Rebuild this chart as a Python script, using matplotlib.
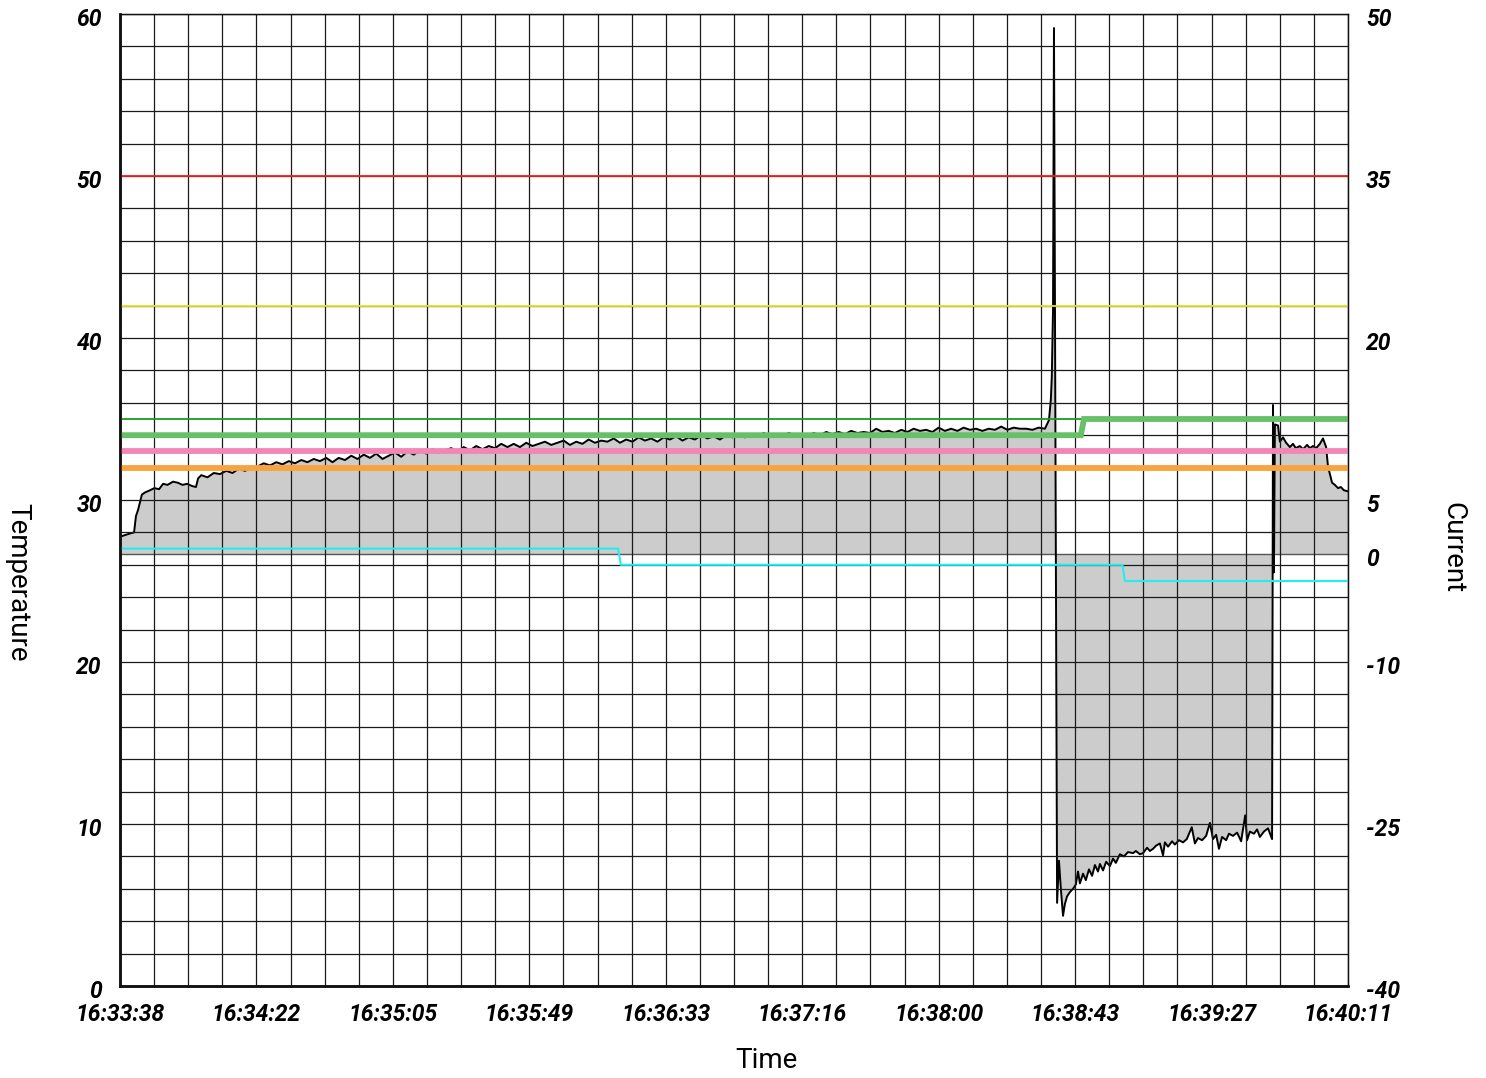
import numpy as np
import matplotlib
matplotlib.use("Agg")
import matplotlib.pyplot as plt
import matplotlib.transforms as mtransforms

# ---------------- data ----------------
x_tick_labels = ["16:33:38", "16:34:22", "16:35:05", "16:35:49", "16:36:33",
                 "16:37:16", "16:38:00", "16:38:43", "16:39:27", "16:40:11"]
duration_s = 393            # 16:33:38 -> 16:40:11
temp_ticks = [0, 10, 20, 30, 40, 50, 60]
current_ticks = [50, 35, 20, 5, 0, -10, -25, -40]

# current samples (seconds since 16:33:38, amperes)
start_t = [0, 3.2, 4.5, 5.1, 5.8, 7.0, 8.0, 9.6, 11, 12.5, 13.8, 15.2, 17, 18.5, 20, 21.5, 23, 24.3, 25.0]
start_v = [1.6, 1.9, 2.0, 3.5, 4.1, 5.5, 5.7, 5.9, 6.1, 6.0, 6.5, 6.4, 6.7, 6.6, 6.4, 6.5, 6.3, 6.2, 7.0]

main_t0, main_dt = 26, 2   # sampled every 2 s from t=26 s
main_v = [7.3, 7.1, 7.5, 7.4, 7.7, 7.5, 7.9, 7.7, 8.0, 8.1, 8.4, 8.2, 8.5, 8.3, 8.6, 8.4, 8.7, 8.5,
          8.8, 8.6, 8.9, 8.5, 8.9, 8.7, 9.1, 8.8, 9.2, 8.9, 9.3, 8.8, 9.1, 9.4, 9.0, 9.5, 9.2, 9.6,
          9.3, 9.7, 9.4, 9.6, 9.8, 9.5, 9.9, 9.6, 10.0, 9.7, 10.0, 9.8, 10.2, 9.9, 10.2, 9.9, 10.3,
          10.0, 10.2, 10.4, 10.1, 10.3, 10.5, 10.1, 10.4, 10.2, 10.6, 10.3, 10.5, 10.4, 10.7, 10.3,
          10.6, 10.4, 10.8, 10.5, 10.7, 10.4, 10.8, 10.6, 10.9, 10.5, 10.8, 10.6, 11.0, 10.7, 10.9,
          10.6, 11.0, 10.8, 11.1, 10.8, 11.0, 10.9, 11.2, 10.9, 11.1, 10.9, 11.2, 11.0, 11.1, 10.9,
          11.2, 11.0, 11.3, 11.1, 11.3, 11.1, 11.4, 11.2, 11.3, 11.2, 11.6, 11.3, 11.4, 11.2, 11.5,
          11.3, 11.6, 11.4, 11.5, 11.3, 11.7, 11.4, 11.6, 11.4, 11.7, 11.5, 11.6, 11.4, 11.6, 11.5,
          11.8, 11.5, 11.7, 11.6, 11.6, 11.5, 11.7, 11.6]

spike_t = [297.3, 297.9, 298.2, 298.6, 298.9]
spike_v = [12.4, 14.3, 16.4, 22.6, 48.7]

neg_t = [299.9, 300.5, 301.1, 301.8, 302.4, 303.1, 304.0, 305.0, 305.9, 306.6, 307.2, 308.2, 309.1,
         310.1, 311.1, 312.0, 313.0, 313.6, 314.6, 315.6, 316.8, 317.8, 318.7, 320.0, 321.3, 322.6,
         324.2, 325.1, 326.4, 327.4, 328.7, 329.6, 330.6, 331.6, 332.8, 333.8, 334.4, 335.4, 336.7,
         337.6, 338.9, 340.2, 341.4, 343.0, 344.0, 345.0, 346.3, 347.6, 348.8, 349.8, 350.8, 351.7,
         352.7, 354.0, 354.9, 356.2, 357.5, 358.8, 360.1, 360.7, 361.6, 362.9, 363.9, 364.8, 366.1,
         367.4, 368.7]
neg_v = [-32.3, -28.4, -31.0, -33.5, -32.4, -31.7, -31.3, -31.0, -30.6, -29.4, -30.5, -29.6, -30.2,
         -29.2, -29.8, -28.8, -29.4, -28.7, -29.3, -28.5, -28.9, -28.2, -28.6, -27.8, -28.0, -27.6,
         -27.7, -27.5, -27.8, -27.7, -27.2, -27.5, -27.3, -27.0, -26.8, -27.9, -26.7, -27.1, -26.6,
         -26.9, -26.5, -26.7, -26.4, -25.3, -26.8, -26.3, -26.5, -26.1, -24.9, -26.4, -26.0, -27.3,
         -26.2, -26.5, -25.9, -26.1, -25.8, -26.6, -24.2, -26.5, -25.7, -25.9, -25.5, -26.2, -25.7,
         -25.4, -26.4]

end_t = [369.0, 369.3, 369.6, 370.6, 371.2, 372.2, 373.2, 374.4, 375.4, 376.3, 377.6, 378.6, 379.9,
         380.8, 381.8, 382.8, 384.0, 385.0, 386.0, 386.6, 387.9, 388.8, 389.8, 390.7, 391.7, 393.0]
end_v = [13.8, -1.7, 12.0, 11.9, 10.4, 10.8, 10.3, 9.9, 10.2, 9.8, 10.0, 9.7, 10.1,
         9.8, 10.0, 9.8, 10.2, 10.7, 9.9, 8.1, 6.6, 6.4, 6.1, 6.2, 5.9, 5.8]

# temperature reference lines (seconds, degrees)
red_level = 50
yellow_level = 42
green_thin_level = 35
green_thick_t = [0, 307.5, 308.5, 393]
green_thick_v = [34, 34, 35, 35]
pink_level = 33
orange_level = 32
cyan_t = [0.5, 159.4, 160.3, 320.8, 321.6, 393]
cyan_v = [27, 27, 26, 26, 25, 25]

# ---------------- assemble ----------------
main_t = [main_t0 + main_dt * i for i in range(len(main_v))]
cur_t = np.array(start_t + main_t + spike_t + neg_t + end_t, dtype=float)
cur_v = np.array(start_v + main_v + spike_v + neg_v + end_v, dtype=float)

# ---------------- figure ----------------
W, H = 1486, 1078
fig = plt.figure(figsize=(W / 100, H / 100), dpi=100)
L, R, T, B = 120, 1348, 14, 986
ax = fig.add_axes([L / W, 1 - B / H, (R - L) / W, (B - T) / H])
ax2 = ax.twinx()

tick_font = dict(family="Roboto", weight="bold", style="italic", size=16.5)
label_font = dict(family="Roboto", size=20)

# current (right axis) drawn behind the temperature axes
ax2.set_zorder(1)
ax.set_zorder(2)
ax.patch.set_visible(False)
ax2.patch.set_visible(True)
ax2.patch.set_facecolor("white")

ax2.fill_between(cur_t, 0, cur_v, facecolor="#cccccc", edgecolor="none", zorder=1)
ax2.axhline(0, color="#555555", lw=1.0, zorder=1.5)
ax2.plot(cur_t, cur_v, color="black", lw=1.4, zorder=2)
ax2.set_ylim(-40, 50)
ax2.set_yticks(current_ticks)
ax2.set_yticklabels([str(v) for v in current_ticks], fontdict=tick_font)
ax2.tick_params(axis="y", length=0, pad=13)

# temperature axes: grid + reference lines
ax.set_xlim(0, duration_s)
ax.set_ylim(0, 60)
ax.set_xticks(np.linspace(0, duration_s, len(x_tick_labels)))
ax.set_xticks(np.linspace(0, duration_s, 37), minor=True)
ax.set_xticklabels(x_tick_labels, fontdict=tick_font)
ax.set_yticks(temp_ticks)
ax.set_yticks(np.arange(0, 61, 2), minor=True)
ax.set_yticklabels([str(v) for v in temp_ticks], fontdict=tick_font)
ax.tick_params(axis="both", which="both", length=0)
ax.tick_params(axis="y", pad=13)
ax.tick_params(axis="x", pad=12)
ax.grid(True, which="both", color="#1a1a1a", lw=0.9, zorder=0)
ax.set_axisbelow(True)

ax.axhline(red_level, color="#ff1a1a", lw=1.3)
ax.axhline(yellow_level, color="#e8e820", lw=1.3)
ax.axhline(green_thin_level, color="#1f9a1f", lw=1.3)
ax.plot(green_thick_t, green_thick_v, color="#66c068", lw=4.2, solid_joinstyle="miter")
ax.axhline(pink_level, color="#f287b5", lw=4.2)
ax.axhline(orange_level, color="#f9a33f", lw=4.2)
ax.plot(cyan_t, cyan_v, color="#22eeee", lw=1.5)

for a in (ax, ax2):
    for s in a.spines.values():
        s.set_color("#111111")
        s.set_linewidth(0.9)
ax.spines["left"].set_linewidth(1.8)
ax.spines["bottom"].set_linewidth(1.8)
ax2.spines["left"].set_linewidth(1.8)
ax2.spines["bottom"].set_linewidth(1.8)

# nudge the y tick labels a few pixels down, as in the reference
shift = mtransforms.ScaledTranslation(0, -3 / 100, fig.dpi_scale_trans)
for lab in ax.get_yticklabels() + ax2.get_yticklabels():
    lab.set_transform(lab.get_transform() + shift)

fig.text(766 / W, 1 - 1060 / H, "Time", ha="center", va="center", fontdict=label_font)
fig.text(18 / W, 1 - 582 / H, "Temperature", ha="center", va="center", rotation=270, fontdict=label_font)
fig.text(1453 / W, 1 - 548 / H, "Current", ha="center", va="center", rotation=270, fontdict=label_font)

fig.savefig("out.png", dpi=100, facecolor="white")
